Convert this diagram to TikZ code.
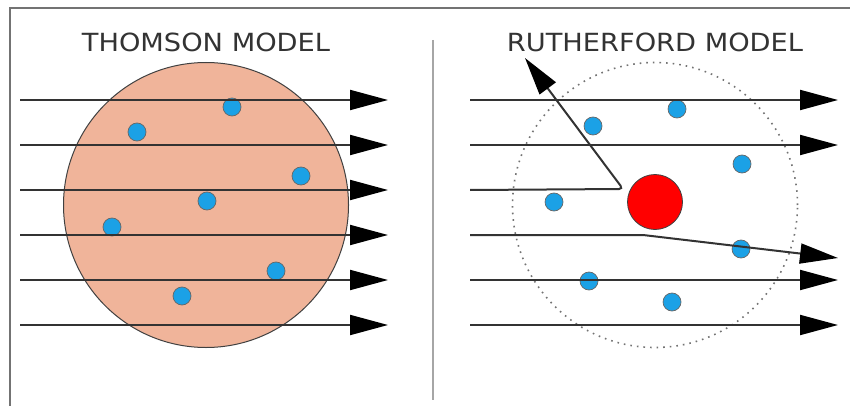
\documentclass[tikz,border=0pt]{standalone}
\usepackage{fontspec}
\setmainfont{DejaVu Sans}
\usetikzlibrary{arrows.meta}
\definecolor{spherefill}{HTML}{F0B49A}
\definecolor{electronblue}{HTML}{1BA1E6}
\definecolor{nucleusred}{HTML}{FF0000}
\tikzset{
  ray/.style={draw=black!80, line width=2pt, -{Triangle[length=38pt,width=20pt,color=black]}},
  electron/.style={circle, fill=electronblue, draw=black!60, line width=0.7pt, inner sep=0pt, minimum size=18pt},
  modeltitle/.style={text=black!80, font=\fontsize{25}{25}\selectfont},
}
\begin{document}
\begin{tikzpicture}[x=1pt,y=-1pt]
      \useasboundingbox (0,0) rectangle (850,406);
      % frame and divider
      \draw[black!55, line width=1.5pt] (10,406) -- (10,8) -- (850,8);
      \draw[black!35, line width=1.5pt] (433,40) -- (433,400);
      % titles
      \node[modeltitle] (ttitle) at (206,42) {\scalebox{1.09}[1]{THOMSON MODEL}};
      \node[modeltitle] (rtitle) at (655,42) {\scalebox{1.09}[1]{RUTHERFORD MODEL}};
      % thomson atom
      \node[circle, fill=spherefill, draw=black!75, line width=1pt, minimum size=285pt] (sphere) at (206,205) {};
      \node[electron] (t1) at (232,107) {};
      \node[electron] (t2) at (137,132) {};
      \node[electron] (t3) at (301,176) {};
      \node[electron] (t4) at (207,201) {};
      \node[electron] (t5) at (112,227) {};
      \node[electron] (t6) at (276,271) {};
      \node[electron] (t7) at (182,296) {};
      \coordinate (ts1) at (20,100);  \coordinate (te1) at (388,100);
      \coordinate (ts2) at (20,145);  \coordinate (te2) at (388,145);
      \coordinate (ts3) at (20,190);  \coordinate (te3) at (388,190);
      \coordinate (ts4) at (20,235);  \coordinate (te4) at (388,235);
      \coordinate (ts5) at (20,280);  \coordinate (te5) at (388,280);
      \coordinate (ts6) at (20,325);  \coordinate (te6) at (388,325);
      \draw[ray] (ts1) -- (te1);
      \draw[ray] (ts2) -- (te2);
      \draw[ray] (ts3) -- (te3);
      \draw[ray] (ts4) -- (te4);
      \draw[ray] (ts5) -- (te5);
      \draw[ray] (ts6) -- (te6);
      % rutherford atom
      \node[circle, draw=black!55, dash pattern=on 1.6pt off 5pt, line width=1.6pt, minimum size=285pt] (shell) at (655,205) {};
      \node[circle, fill=nucleusred, draw=black!75, line width=0.8pt, inner sep=0pt, minimum size=55pt] (nucleus) at (655,202) {};
      \node[electron] (r1) at (677,109) {};
      \node[electron] (r2) at (593,126) {};
      \node[electron] (r3) at (742,164) {};
      \node[electron] (r4) at (554,202) {};
      \node[electron] (r5) at (741,249) {};
      \node[electron] (r6) at (589,281) {};
      \node[electron] (r7) at (672,302) {};
      \coordinate (rs1) at (470,100);  \coordinate (re1) at (838,100);
      \coordinate (rs2) at (470,145);  \coordinate (re2) at (838,145);
      \coordinate (rs3) at (470,190);  \coordinate (bounce) at (623,189);  \coordinate (re3) at (525,58);
      \coordinate (rs4) at (470,235);  \coordinate (bend) at (643,235);  \coordinate (re4) at (838,258);
      \coordinate (rs5) at (470,280);  \coordinate (re5) at (838,280);
      \coordinate (rs6) at (470,325);  \coordinate (re6) at (838,325);
      \draw[ray] (rs1) -- (re1);
      \draw[ray] (rs2) -- (re2);
      \draw[ray, rounded corners=4pt] (rs3) -- (bounce) -- (re3);
      \draw[ray] (rs4) -- (bend) -- (re4);
      \draw[ray] (rs5) -- (re5);
      \draw[ray] (rs6) -- (re6);
\end{tikzpicture}
\end{document}
